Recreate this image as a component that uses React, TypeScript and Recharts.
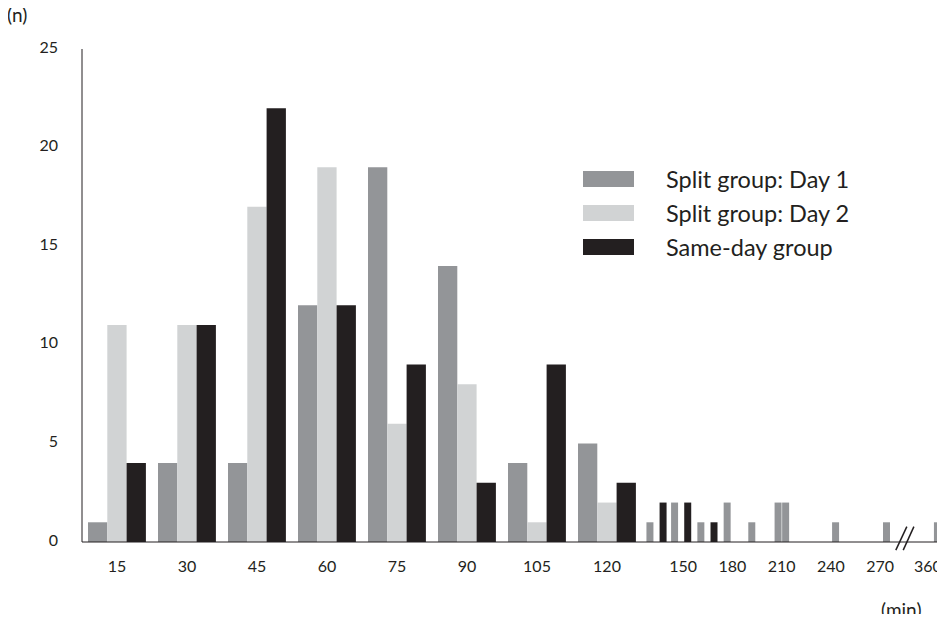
import { BarChart, Bar, XAxis, YAxis, Legend, ReferenceLine } from 'recharts';

// Linker Teil: 15-Minuten-Klassen bis 120 min
const categories = ['15', '30', '45', '60', '75', '90', '105', '120'];
const day1 = [1, 4, 4, 12, 19, 14, 4, 5];
const day2 = [11, 11, 17, 19, 6, 8, 1, 2];
const sameDay = [4, 11, 22, 12, 9, 3, 9, 3];
const seriesNames = ['Split group: Day 1', 'Split group: Day 2', 'Same-day group'];

// Rechter Teil: Einzelwerte > 120 min (Achse mit Bruch vor 360)
const tailMinutes = [130, 138, 145, 153, 161, 169, 177, 192, 208, 212.6, 243, 274, 360];
const tailDay1 = [1, 0, 2, 0, 1, 0, 2, 1, 2, 2, 1, 1, 1];
const tailSame = [0, 2, 0, 2, 0, 1, 0, 0, 0, 0, 0, 0, 0];
const tailTicks = [150, 180, 210, 240, 270, 360];
const yTicks = [0, 5, 10, 15, 20, 25];

const C_DAY1 = '#939598';
const C_DAY2 = '#d1d3d4';
const C_SAME = '#231f20';
const INK = '#231f20';

// Achsenbruch: alles nach 300 min wird zusammengeschoben
const breakPos = (m: number) => (m > 300 ? m - 55 : m);
// Beschriftung "360" sitzt etwas links vom Balken
const tickPos = (m: number) => (m > 300 ? breakPos(m) - 6 : m);

const leftData = categories.map((c, i) => ({
  cat: c,
  day1: day1[i],
  day2: day2[i],
  same: sameDay[i],
}));

const tailData = tailMinutes.map((m, i) => ({
  pos: breakPos(m),
  day1: tailDay1[i] || null,
  same: tailSame[i] || null,
}));

const tickStyle = { fontSize: 16, fill: INK };

const LegendBox = ({ payload }: any) => (
  <div style={{ fontFamily: 'Lato', color: INK }}>
    {(payload || []).map((p: any) => (
      <div key={p.value} style={{ display: 'flex', alignItems: 'center', height: 34 }}>
        <div style={{ width: 51, height: 16, background: p.color, marginRight: 32 }} />
        <span style={{ fontSize: 23.5, lineHeight: '34px' }}>{p.value}</span>
      </div>
    ))}
  </div>
);

export default function App() {
  return (
    <div style={{ position: 'relative', width: 945, height: 622, background: '#fff', fontFamily: 'Lato', margin: -8 }}>
      <div style={{ position: 'absolute', left: 7, top: 3, fontSize: 19, color: INK }}>(n)</div>
      <div style={{ position: 'absolute', left: 881, top: 598, fontSize: 19, color: INK }}>(min)</div>

      <div style={{ position: 'absolute', left: 0, top: 0 }}>
        <BarChart
          width={645}
          height={622}
          data={leftData}
          margin={{ top: 49, right: 3, bottom: 50, left: 22 }}
          barGap={0}
        >
          <XAxis
            dataKey="cat"
            height={30}
            tickLine={false}
            tickMargin={13}
            axisLine={{ stroke: INK }}
            tick={tickStyle}
          />
          <YAxis
            width={60}
            domain={[0, 25]}
            ticks={yTicks}
            tickLine={false}
            tickMargin={18}
            axisLine={{ stroke: INK }}
            tick={{ ...tickStyle, dy: -2 }}
          />
          <Legend
            layout="vertical"
            align="center"
            verticalAlign="middle"
            itemSorter={(item: any) => seriesNames.indexOf(item.value)}
            wrapperStyle={{ left: 583, top: 162, width: 340 }}
            content={<LegendBox />}
          />
          <Bar dataKey="day1" name={seriesNames[0]} fill={C_DAY1} barSize={19.3} isAnimationActive={false} />
          <Bar dataKey="day2" name={seriesNames[1]} fill={C_DAY2} barSize={19.3} isAnimationActive={false} />
          <Bar dataKey="same" name={seriesNames[2]} fill={C_SAME} barSize={19.3} isAnimationActive={false} />
        </BarChart>
      </div>

      <div style={{ position: 'absolute', left: 642, top: 0 }}>
        <BarChart
          width={303}
          height={622}
          data={tailData}
          margin={{ top: 49, right: 4, bottom: 50, left: 0 }}
        >
          <XAxis
            dataKey="pos"
            type="number"
            domain={[125, 307]}
            ticks={tailTicks.map(tickPos)}
            tickFormatter={(v: number) => (v > 290 ? '360' : String(v))}
            height={30}
            tickLine={false}
            tickMargin={13}
            axisLine={{ stroke: INK }}
            tick={tickStyle}
            allowDataOverflow
          />
          <YAxis hide domain={[0, 25]} />
          <ReferenceLine
            segment={[{ x: 279.5, y: -0.41 }, { x: 286.2, y: 0.78 }]}
            stroke={INK}
            strokeWidth={1.5}
            ifOverflow="visible"
          />
          <ReferenceLine
            segment={[{ x: 284, y: -0.41 }, { x: 290.5, y: 0.78 }]}
            stroke={INK}
            strokeWidth={1.5}
            ifOverflow="visible"
          />
          <Bar dataKey="day1" stackId="t" fill={C_DAY1} barSize={7} isAnimationActive={false} />
          <Bar dataKey="same" stackId="t" fill={C_SAME} barSize={7} isAnimationActive={false} />
        </BarChart>
      </div>
    </div>
  );
}
